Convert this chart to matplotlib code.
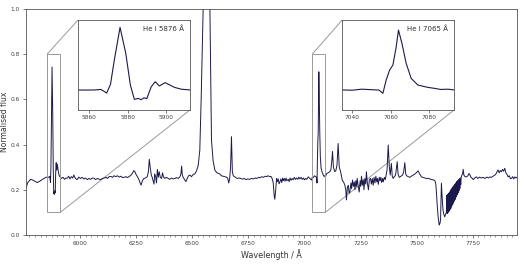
import matplotlib
matplotlib.use("Agg")
import matplotlib.pyplot as plt
import numpy as np
from matplotlib.patches import ConnectionPatch
from matplotlib.ticker import MultipleLocator

# spectrum, split into pieces (wavelength in A, normalised flux)
blue_end = [
    (5760, 0.208), (5768, 0.232), (5780, 0.246), (5788, 0.244), (5795, 0.240),
    (5803, 0.236), (5810, 0.232), (5818, 0.236), (5825, 0.240), (5833, 0.246),
    (5840, 0.250), (5847, 0.254), (5853, 0.256), (5858, 0.255), (5863, 0.256),
]
he5876 = [
    (5866, 0.260), (5869, 0.232), (5871, 0.300), (5873, 0.489), (5876, 0.743),
    (5879, 0.540), (5881.4, 0.294), (5883.5, 0.183), (5885.6, 0.190), (5887, 0.180),
    (5888.6, 0.195), (5890, 0.188), (5892.3, 0.280), (5894.4, 0.320), (5896.6, 0.287),
    (5899.6, 0.313), (5904.5, 0.276), (5908, 0.262), (5912.6, 0.256),
]
continuum_a = [
    (5918, 0.250), (5925, 0.255), (5932, 0.246), (5938, 0.252), (5944, 0.251),
    (5950, 0.260), (5956, 0.248), (5962, 0.258), (5968, 0.252), (5973, 0.265),
    (5980, 0.250), (5988, 0.245), (5995, 0.256), (6003, 0.250), (6010, 0.255),
    (6018, 0.248), (6025, 0.252), (6033, 0.245), (6040, 0.250), (6048, 0.246),
    (6055, 0.252), (6063, 0.251), (6070, 0.245), (6078, 0.250), (6085, 0.247),
    (6093, 0.245), (6100, 0.250), (6108, 0.252), (6116, 0.255), (6123, 0.250),
    (6130, 0.258), (6138, 0.259), (6145, 0.255), (6152, 0.262), (6160, 0.258),
    (6167, 0.262), (6175, 0.256), (6182, 0.260), (6190, 0.254), (6197, 0.255),
    (6205, 0.258), (6212, 0.254), (6220, 0.259), (6228, 0.265), (6235, 0.275),
    (6240, 0.285), (6245, 0.280), (6250, 0.268), (6258, 0.255), (6265, 0.240),
    (6270, 0.225), (6273, 0.221), (6278, 0.240), (6285, 0.250), (6292, 0.252),
    (6300, 0.258), (6305, 0.280), (6309, 0.335), (6313, 0.300), (6318, 0.265),
    (6322, 0.255), (6326, 0.240), (6330, 0.225), (6333, 0.270), (6337, 0.260),
    (6341, 0.230), (6345, 0.290), (6349, 0.255), (6353, 0.280), (6358, 0.255),
    (6364, 0.250), (6368, 0.275), (6372, 0.258), (6378, 0.250), (6385, 0.255),
    (6393, 0.250), (6400, 0.246), (6408, 0.252), (6415, 0.248), (6423, 0.250),
    (6430, 0.254), (6438, 0.250), (6445, 0.257), (6450, 0.270), (6453, 0.305),
    (6456, 0.265), (6460, 0.255), (6466, 0.245), (6472, 0.236), (6478, 0.250),
    (6484, 0.262), (6490, 0.265), (6497, 0.258), (6505, 0.268), (6512, 0.270),
    (6520, 0.285), (6527, 0.308),
]
halpha = [
    (6534, 0.376), (6540, 0.600), (6549, 1.000), (6556, 1.350), (6564, 1.650),
    (6572, 1.350), (6579, 1.000), (6586, 0.420), (6593, 0.330), (6601, 0.287),
]
continuum_b = [
    (6610, 0.275), (6623, 0.270), (6630, 0.262), (6638, 0.260), (6645, 0.258),
    (6652, 0.256), (6658, 0.252), (6663, 0.230), (6667, 0.250), (6671, 0.300),
    (6675, 0.435), (6679, 0.280), (6683, 0.262), (6686, 0.260), (6693, 0.255),
    (6700, 0.250), (6708, 0.252), (6716, 0.250), (6724, 0.247), (6732, 0.250),
    (6740, 0.245), (6748, 0.248), (6756, 0.246), (6764, 0.250), (6772, 0.248),
    (6780, 0.252), (6788, 0.250), (6796, 0.255), (6803, 0.253), (6810, 0.258),
    (6818, 0.255), (6825, 0.260), (6832, 0.258), (6838, 0.262), (6845, 0.258),
    (6851, 0.259), (6856, 0.250), (6861, 0.230), (6865, 0.175), (6868, 0.158),
    (6872, 0.200), (6876, 0.250), (6879, 0.236), (6883, 0.248), (6887, 0.226),
    (6891, 0.236), (6895, 0.248), (6899, 0.232), (6903, 0.252), (6906, 0.240),
    (6910, 0.250), (6914, 0.238), (6918, 0.252), (6922, 0.240), (6928, 0.246),
    (6932, 0.236), (6936, 0.252), (6940, 0.242), (6945, 0.250), (6950, 0.244),
    (6955, 0.255), (6960, 0.246), (6965, 0.252), (6970, 0.246), (6975, 0.256),
    (6980, 0.248), (6985, 0.255), (6990, 0.246), (6995, 0.252), (7000, 0.244),
    (7005, 0.250), (7010, 0.246), (7017, 0.257), (7024, 0.250), (7028, 0.246),
    (7032, 0.243),
]
he7065 = [
    (7035, 0.256), (7040, 0.254), (7045, 0.262), (7050, 0.258), (7054, 0.255),
    (7056, 0.230), (7057.7, 0.333), (7059.5, 0.411), (7061.2, 0.450), (7062.8, 0.580),
    (7064.1, 0.722), (7065.9, 0.619), (7068.1, 0.463), (7070.7, 0.346), (7074.2, 0.294),
    (7079.4, 0.276), (7083, 0.268), (7086, 0.260), (7090, 0.262), (7093, 0.256),
]
red_noisy = [
    (7098, 0.270), (7105, 0.275), (7113, 0.280), (7118, 0.290), (7122, 0.330),
    (7125, 0.370), (7129, 0.300), (7135, 0.280), (7140, 0.285), (7145, 0.310),
    (7150, 0.405), (7155, 0.300), (7161, 0.280), (7165, 0.260), (7169, 0.240),
    (7174, 0.235), (7180, 0.220), (7184, 0.200), (7187, 0.155), (7191, 0.210),
    (7195, 0.220), (7199, 0.185), (7202, 0.190), (7207, 0.230), (7210, 0.205),
    (7214, 0.243), (7218, 0.215), (7222, 0.235), (7225, 0.200), (7229, 0.240),
    (7232, 0.215), (7235, 0.250), (7240, 0.210), (7244, 0.190), (7248, 0.240),
    (7251, 0.215), (7254, 0.260), (7258, 0.220), (7262, 0.245), (7265, 0.200),
    (7269, 0.250), (7273, 0.225), (7276, 0.280), (7280, 0.230), (7285, 0.200),
    (7289, 0.245), (7294, 0.250), (7298, 0.225), (7302, 0.250), (7306, 0.220),
    (7310, 0.255), (7314, 0.230), (7318, 0.260), (7322, 0.235), (7325, 0.250),
    (7329, 0.224), (7333, 0.255), (7337, 0.240), (7340, 0.255), (7344, 0.232),
    (7348, 0.250), (7351, 0.235), (7356, 0.255), (7360, 0.245), (7363, 0.260),
    (7368, 0.290), (7373, 0.398), (7378, 0.300), (7382, 0.265), (7387, 0.317),
    (7391, 0.260), (7395, 0.250), (7400, 0.258), (7404, 0.262), (7407, 0.273),
    (7410, 0.300), (7413, 0.324), (7417, 0.270), (7422, 0.255), (7430, 0.260),
    (7437, 0.265), (7442, 0.280), (7447, 0.320), (7451, 0.270), (7455, 0.262),
    (7462, 0.258), (7469, 0.255), (7476, 0.260), (7484, 0.265), (7492, 0.270),
    (7499, 0.276), (7506, 0.284), (7513, 0.270), (7521, 0.257), (7530, 0.254),
    (7537, 0.252), (7543, 0.250), (7550, 0.251), (7558, 0.248), (7566, 0.245),
    (7574, 0.244), (7581, 0.240),
]
telluric_a = [
    (7585, 0.225), (7588, 0.184), (7592, 0.120), (7596, 0.074), (7600, 0.044),
    (7603, 0.050), (7606, 0.066), (7608, 0.150), (7610, 0.229), (7613, 0.170),
    (7617, 0.110), (7621, 0.090), (7625, 0.080), (7628, 0.090), (7632, 0.100),
    (7634, 0.175), (7636, 0.095), (7638, 0.180), (7640, 0.100), (7642, 0.185),
    (7644, 0.105), (7646, 0.190), (7648, 0.112), (7650, 0.196), (7652, 0.118),
    (7654, 0.203), (7656, 0.128), (7658, 0.208), (7660, 0.135), (7662, 0.214),
    (7664, 0.142), (7666, 0.218), (7668, 0.150), (7670, 0.224), (7672, 0.158),
    (7674, 0.230), (7676, 0.168), (7678, 0.236), (7680, 0.178), (7682, 0.240),
    (7684, 0.186), (7686, 0.244), (7688, 0.195), (7690, 0.248), (7692, 0.205),
    (7694, 0.252), (7696, 0.222), (7698, 0.255),
]
red_end = [
    (7700, 0.262), (7704, 0.270), (7707, 0.290), (7710, 0.265), (7715, 0.258),
    (7721, 0.257), (7728, 0.262), (7733, 0.272), (7737, 0.265), (7742, 0.255),
    (7748, 0.250), (7752, 0.245), (7758, 0.252), (7766, 0.257), (7772, 0.250),
    (7780, 0.256), (7788, 0.252), (7796, 0.255), (7804, 0.250), (7812, 0.256),
    (7820, 0.252), (7826, 0.257), (7833, 0.255), (7840, 0.260), (7848, 0.265),
    (7854, 0.272), (7858, 0.280), (7862, 0.288), (7867, 0.275), (7872, 0.285),
    (7877, 0.280), (7882, 0.290), (7887, 0.282), (7892, 0.295), (7897, 0.275),
    (7902, 0.268), (7907, 0.257), (7912, 0.262), (7917, 0.250), (7922, 0.250),
    (7927, 0.258), (7932, 0.248), (7937, 0.257), (7942, 0.252), (7946, 0.255),
]

# zoom windows and their labels
inset_labels = ["He I 5876 Å", "He I 7065 Å"]
inset_xlims = [(5854, 5912.6), (7034.8, 7093)]
inset_xticks = [[5860, 5880, 5900], [7040, 7060, 7080]]
inset_ylim = (0.1, 0.8)

spectrum = np.array(blue_end + he5876 + continuum_a + halpha + continuum_b
                    + he7065 + red_noisy + telluric_a + red_end)
wavelength, flux = spectrum[:, 0], spectrum[:, 1]

line_color = "#1c1a4c"
frame_color = "#555555"
box_color = "#9a9a9a"

plt.rcParams["font.family"] = "DejaVu Sans"

figure = plt.figure(figsize=(5.2, 2.64), dpi=100)
axe = figure.add_axes([0.05, 0.11, 0.944, 0.856])
axe.plot(wavelength, flux, color=line_color, lw=0.7)
axe.set_xlim(wavelength[0], wavelength[-1])
axe.set_ylim(0, 1)
axe.xaxis.set_major_locator(MultipleLocator(250))
axe.xaxis.set_minor_locator(MultipleLocator(25))
axe.yaxis.set_major_locator(MultipleLocator(0.2))
axe.tick_params(labelsize=4.2, colors="#444444", length=2, width=0.5, pad=2.5)
axe.tick_params(which="minor", length=1.2, width=0.4, colors="#444444")
axe.set_xlabel("Wavelength / Å", fontsize=5.8, color="#333333", labelpad=2)
axe.set_ylabel("Normalised flux", fontsize=5.5, color="#333333", labelpad=1)
for spine in axe.spines.values():
    spine.set_color(frame_color)
    spine.set_linewidth(0.6)

inset_bounds = [[0.106, 0.553, 0.228, 0.398], [0.644, 0.553, 0.228, 0.398]]
for bounds, label, xlim, xticks in zip(inset_bounds, inset_labels, inset_xlims, inset_xticks):
    axins = axe.inset_axes(bounds)
    axins.plot(wavelength, flux, color=line_color, lw=0.8)
    axins.set_xlim(*xlim)
    axins.set_ylim(*inset_ylim)
    axins.set_xticks(xticks)
    axins.set_yticks([])
    axins.tick_params(labelsize=4.2, colors="#444444", length=2, width=0.5, pad=1.5)
    for spine in axins.spines.values():
        spine.set_color(frame_color)
        spine.set_linewidth(0.6)
    axins.text(0.95, 0.94, label, transform=axins.transAxes, ha="right", va="top",
               fontsize=5, color="#333333")

    # zoom box on the main spectrum plus the two connector lines
    x0, x1 = xlim
    y0, y1 = inset_ylim
    axe.indicate_inset([x0, y0, x1 - x0, y1 - y0], edgecolor=box_color, alpha=1, lw=0.7)
    for corner_data, corner_axes in [((x0, y1), (0, 1)), ((x1, y0), (1, 0))]:
        link = ConnectionPatch(xyA=corner_axes, coordsA=axins.transAxes,
                               xyB=corner_data, coordsB=axe.transData,
                               color=box_color, lw=0.7)
        axe.add_artist(link)

plt.savefig("out.png", dpi=100)
